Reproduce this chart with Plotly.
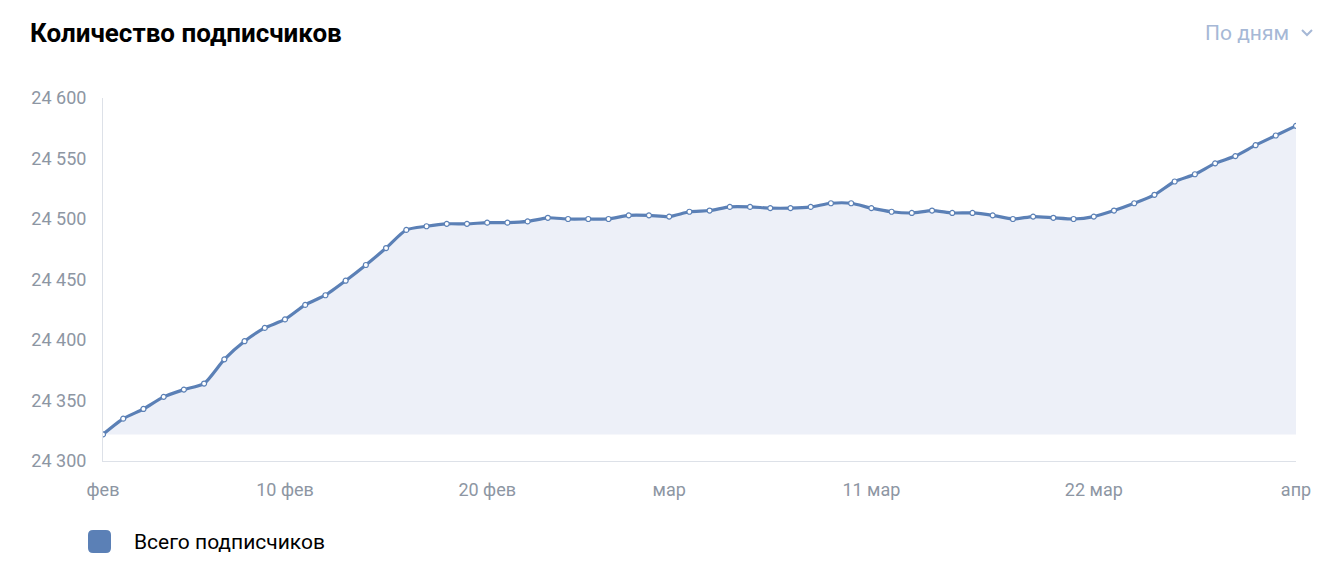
import pandas as pd
import plotly.graph_objects as go

# daily subscriber totals, 1 Feb - 1 Apr
dates = pd.date_range("2019-02-01", "2019-04-01", freq="D")
subscribers = [
    24322, 24335, 24343, 24353, 24359, 24364, 24384, 24399, 24410, 24417,
    24429, 24437, 24449, 24462, 24476, 24491, 24494, 24496, 24496, 24497,
    24497, 24498, 24501, 24500, 24500, 24500, 24503, 24503, 24502, 24506,
    24507, 24510, 24510, 24509, 24509, 24510, 24513, 24513, 24509, 24506,
    24505, 24507, 24505, 24505, 24503, 24500, 24502, 24501, 24500, 24502,
    24507, 24513, 24520, 24531, 24537, 24546, 24552, 24561, 24569, 24577,
]

tick_dates = ["2019-02-01", "2019-02-10", "2019-02-20", "2019-03-01",
              "2019-03-11", "2019-03-22", "2019-04-01"]
tick_labels = ["фев", "10 фев", "20 фев", "мар", "11 мар", "22 мар", "апр"]
y_ticks = [24300, 24350, 24400, 24450, 24500, 24550, 24600]

blue = "#5b80b6"
gray = "#8d96a3"
font = "Roboto, 'Liberation Sans', sans-serif"

# page body has an 8px margin, so the figure is 8px smaller
W, H = 1332, 568
L, R, T, B = 95, 44, 90, 115
pw, ph = W - L - R, H - T - B


def px(x):  # screen x -> paper
    return (x - 8 - L) / pw


def py(y):  # screen y -> paper
    return (H - B + 8 - y) / ph


fig = go.Figure()
# area is filled down to the lowest value, not to the axis
fig.add_trace(go.Scatter(x=dates, y=[min(subscribers)] * len(dates),
                         mode="lines", line=dict(width=0), hoverinfo="skip",
                         showlegend=False))
fig.add_trace(go.Scatter(
    x=dates, y=subscribers, mode="lines+markers", name="Всего подписчиков",
    line=dict(color=blue, width=3.2, shape="spline", smoothing=0.6),
    marker=dict(size=5, color="white", line=dict(color=blue, width=1.2)),
    fill="tonexty", fillcolor="#edf0f8", showlegend=False,
))

fig.update_layout(
    width=W, height=H,
    margin=dict(l=L, r=R, t=T, b=B),
    paper_bgcolor="white", plot_bgcolor="white",
    font=dict(family=font, size=18, color=gray),
    separators=". ",
    xaxis=dict(range=[dates[0], dates[-1]], tickvals=pd.to_datetime(tick_dates),
               ticktext=tick_labels, showgrid=False, zeroline=False,
               showline=True, linecolor="#dde1e8", linewidth=1,
               ticks="outside", ticklen=12, tickcolor="rgba(0,0,0,0)"),
    yaxis=dict(range=[24300, 24600], tickvals=y_ticks, tickformat=",d",
               showgrid=False, zeroline=False, showline=True,
               linecolor="#dde1e8", linewidth=1,
               ticks="outside", ticklen=12, tickcolor="rgba(0,0,0,0)"),
)

fig.add_annotation(text="<b>Количество подписчиков</b>", xref="paper", yref="paper",
                   x=px(28), y=py(33), xanchor="left", yanchor="middle",
                   showarrow=False, font=dict(size=26, color="#000000", family=font))
fig.add_annotation(text="По дням", xref="paper", yref="paper",
                   x=px(1291), y=py(33), xanchor="right", yanchor="middle",
                   showarrow=False, font=dict(size=21, color="#a6b8d6", family=font))
# small chevron next to "По дням"
fig.add_shape(type="path", xref="paper", yref="paper",
              path=f"M {px(1302)} {py(30)} L {px(1307)} {py(35)} L {px(1312)} {py(30)}",
              line=dict(color="#a6b8d6", width=2))

# legend drawn by hand: rounded square + label
x0, x1, y0, y1, r = 88, 111, 530, 553, 5
fig.add_shape(type="path", xref="paper", yref="paper",
              path=(f"M {px(x0 + r)} {py(y0)} L {px(x1 - r)} {py(y0)} "
                    f"Q {px(x1)} {py(y0)} {px(x1)} {py(y0 + r)} L {px(x1)} {py(y1 - r)} "
                    f"Q {px(x1)} {py(y1)} {px(x1 - r)} {py(y1)} L {px(x0 + r)} {py(y1)} "
                    f"Q {px(x0)} {py(y1)} {px(x0)} {py(y1 - r)} L {px(x0)} {py(y0 + r)} "
                    f"Q {px(x0)} {py(y0)} {px(x0 + r)} {py(y0)} Z"),
              fillcolor=blue, line=dict(width=0))
fig.add_annotation(text="Всего подписчиков", xref="paper", yref="paper",
                   x=px(132), y=py(542), xanchor="left", yanchor="middle",
                   showarrow=False, font=dict(size=21, color="#000000", family=font))

fig.write_html("out.html")
